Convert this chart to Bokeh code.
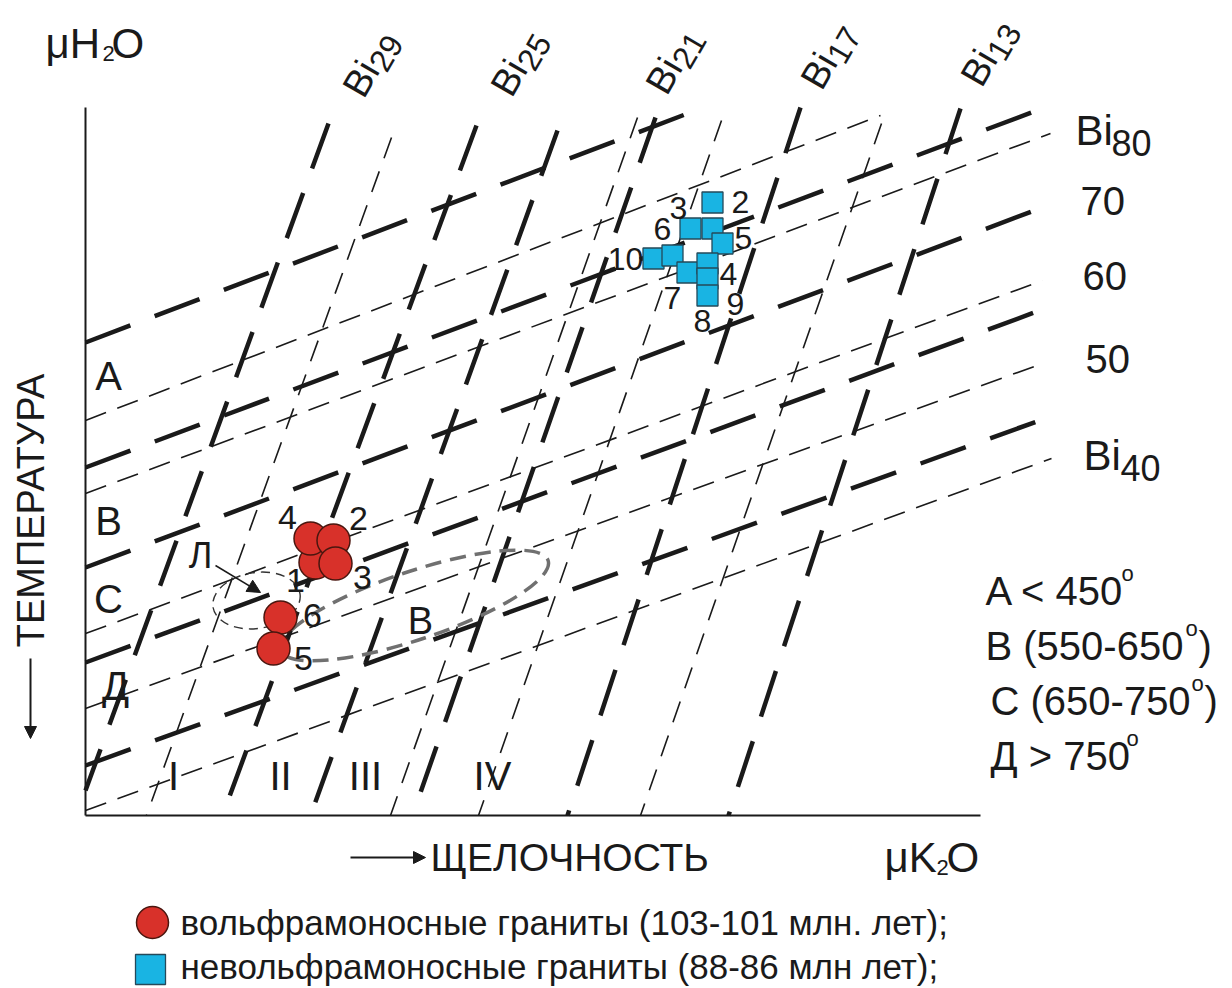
import numpy as np
from bokeh.plotting import figure
from bokeh.models import Range1d, Arrow, NormalHead
from bokeh.embed import file_html
from bokeh.resources import INLINE
from bokeh.core.properties import value

# ---------------- data (diagram units; origin = corner of the axes) ----------------
# sloped Bi isolines (thick long-dashed) : start on the muH2O axis, end at the right / top
slope_thick_x0 = [0, 0, 0, 0, 0]
slope_thick_y0 = [473, 348, 248, 153, 50]
slope_thick_x1 = [610, 962, 957, 957, 954]
slope_thick_y1 = [705, 709, 608, 506, 395]
# sloped thin dashed lines
slope_thin_x0 = [0, 0, 0, 0, 0]
slope_thin_y0 = [395, 322, 182, 107, 5]
slope_thin_x1 = [795, 965, 957, 957, 966]
slope_thin_y1 = [700, 682, 535, 452, 357]
# steep Bi isolines (thick long-dashed): top -> bottom
steep_thick_x0 = [243, 391, 472, 570, 715, 875]
steep_thick_y0 = [692, 690, 685, 698, 708, 707]
steep_thick_x1 = [0, 137, 225, 327, 482, 643]
steep_thick_y1 = [25, 0, 0, 0, 0, 0]
# steep thin dashed lines
steep_thin_x0 = [306, 552, 636, 796]
steep_thin_y0 = [678, 698, 695, 692]
steep_thin_x1 = [61, 305, 393, 555]
steep_thin_y1 = [0, 0, 0, 0]

# tungsten-bearing granites (103-101 Ma)
w_id = ["1", "4", "2", "3", "6", "5"]
w_x = [230, 225, 248, 250, 195, 188]
w_y = [253, 277, 275, 252, 198, 167]
w_lab_x = [210, 202, 273, 277, 227, 218]
w_lab_y = [235, 298, 297, 238, 200, 157]

# non-tungsten granites (88-86 Ma)
nw_x = [627, 605, 627, 637, 568, 587, 602, 622, 622, 622]
nw_y = [613, 587, 587, 572, 557, 560, 543, 552, 537, 520]
nw_lab = ["3", "2", "6", "5", "10", "4", "7", "8", "9"]
nw_lab_x = [593, 655, 577, 658, 540, 643, 587, 617, 650]
nw_lab_y = [608, 614, 587, 578, 557, 542, 518, 495, 512]

# field outlines
big_ell = dict(x=[329], y=[210], w=[282], h=[68], a=[0.325])
small_ell = dict(x=[171], y=[215], w=[88], h=[56], a=[0.15])

top_sub = ["29", "25", "21", "17", "13"]
right_sub = ["80", "70", "60", "50", "40"]
zones = ["A", "B", "C", "Д"]
roman = ["I", "II", "III", "IV"]
temp_main = ["A < 450", "B (550-650", "C (650-750", "Д > 750"]

# ---------------- figure ----------------
p = figure(width=1232, height=988, x_range=Range1d(-85, 1147), y_range=Range1d(-173, 815),
           output_backend="svg", toolbar_location=None, min_border=0,
           x_axis_type=None, y_axis_type=None)
p.outline_line_color = None
p.background_fill_color = "white"
p.border_fill_color = "white"

FONT = value("Liberation Sans")
INK = "#1a1a1a"

# axes
p.segment(x0=[0, 0], y0=[0, 0], x1=[0, 895], y1=[708, 0], line_color=INK, line_width=2)

# isolines
p.segment(x0=slope_thin_x0, y0=slope_thin_y0, x1=slope_thin_x1, y1=slope_thin_y1,
          line_color=INK, line_width=1.6, line_dash="22 12")
p.segment(x0=steep_thin_x0, y0=steep_thin_y0, x1=steep_thin_x1, y1=steep_thin_y1,
          line_color=INK, line_width=1.6, line_dash="22 14")
p.segment(x0=slope_thick_x0, y0=slope_thick_y0, x1=slope_thick_x1, y1=slope_thick_y1,
          line_color=INK, line_width=4.5, line_dash="48 26")
p.segment(x0=steep_thick_x0, y0=steep_thick_y0, x1=steep_thick_x1, y1=steep_thick_y1,
          line_color=INK, line_width=4.5, line_dash="48 26")

# fields
p.ellipse(x=big_ell["x"], y=big_ell["y"], width=big_ell["w"], height=big_ell["h"], angle=big_ell["a"],
          fill_color=None, line_color="#707070", line_width=3.5, line_dash="16 9")
p.ellipse(x=small_ell["x"], y=small_ell["y"], width=small_ell["w"], height=small_ell["h"], angle=small_ell["a"],
          fill_color=None, line_color="#333333", line_width=1.4, line_dash="9 6")
p.add_layout(Arrow(end=NormalHead(size=13, fill_color=INK, line_color=INK),
                   x_start=130, y_start=250, x_end=175, y_end=223, line_color=INK, line_width=1.5))
p.text(x=[115], y=[260], text=["Л"], text_font=FONT, text_font_size="36px",
       text_align="center", text_baseline="middle", text_color=INK)
p.text(x=[335], y=[195], text=["В"], text_font=FONT, text_font_size="38px",
       text_align="center", text_baseline="middle", text_color=INK)

# points
RED, RED_E = "#d8312a", "#4a160f"
CYAN, CYAN_E = "#19b4e3", "#24495a"
p.scatter(x=w_x, y=w_y, size=33, marker="circle", fill_color=RED, line_color=RED_E, line_width=1.5)
p.text(x=w_lab_x, y=w_lab_y, text=w_id, text_font=FONT, text_font_size="34px",
       text_align="center", text_baseline="middle", text_color=INK)
p.scatter(x=nw_x, y=nw_y, size=21, marker="square", fill_color=CYAN, line_color=CYAN_E, line_width=1.3)
p.text(x=nw_lab_x, y=nw_lab_y, text=nw_lab, text_font=FONT, text_font_size="32px",
       text_align="center", text_baseline="middle", text_color=INK)

# zone letters and roman numerals
p.text(x=[23, 23, 23, 30], y=[440, 295, 217, 130], text=zones, text_font=FONT, text_font_size="40px",
       text_align="center", text_baseline="middle", text_color=INK)
p.text(x=[88, 195, 280, 407], y=[40, 40, 40, 40], text=roman, text_font=FONT, text_font_size="40px",
       text_align="center", text_baseline="middle", text_color=INK)

# top rotated Bi labels
ang = np.deg2rad(60)
tx = np.array([267, 415, 570, 725, 885], dtype=float)
ty = np.array([722, 723, 725, 730, 733], dtype=float)
p.text(x=tx, y=ty, text=["Bi"] * 5, angle=ang, text_font=FONT, text_font_size="38px",
       text_align="left", text_baseline="alphabetic", text_color=INK)
sx = tx + 34 * np.cos(ang) + 9 * np.sin(ang)
sy = ty + 34 * np.sin(ang) - 9 * np.cos(ang)
p.text(x=sx, y=sy, text=top_sub, angle=ang, text_font=FONT, text_font_size="32px",
       text_align="left", text_baseline="alphabetic", text_color=INK)

# right-hand Bi labels
p.text(x=[990, 998], y=[685, 360], text=["Bi", "Bi"], text_font=FONT, text_font_size="42px",
       text_align="left", text_baseline="middle", text_color=INK)
p.text(x=[1026, 995, 997, 1000, 1035], y=[673, 615, 540, 457, 348], text=right_sub, text_font=FONT,
       text_font_size=["36px", "40px", "40px", "40px", "36px"],
       text_align="left", text_baseline="middle", text_color=INK)

# temperature legend
p.text(x=[900, 900, 905, 905], y=[225, 170, 115, 60], text=temp_main, text_font=FONT, text_font_size="40px",
       text_align="left", text_baseline="middle", text_color=INK)
p.text(x=[1036, 1100, 1106, 1041], y=[242, 187, 132, 77], text=["o"] * 4, text_font=FONT,
       text_font_size="22px", text_align="left", text_baseline="middle", text_color=INK)
p.text(x=[1113, 1119], y=[170, 115], text=[")", ")"], text_font=FONT, text_font_size="40px",
       text_align="left", text_baseline="middle", text_color=INK)

# axis titles
p.text(x=[-40], y=[772], text=["μH"], text_font=FONT, text_font_size="42px",
       text_align="left", text_baseline="middle", text_color=INK)
p.text(x=[17], y=[762], text=["2"], text_font=FONT, text_font_size="22px",
       text_align="left", text_baseline="middle", text_color=INK)
p.text(x=[26], y=[772], text=["O"], text_font=FONT, text_font_size="42px",
       text_align="left", text_baseline="middle", text_color=INK)
p.text(x=[799], y=[-42], text=["μK"], text_font=FONT, text_font_size="42px",
       text_align="left", text_baseline="middle", text_color=INK)
p.text(x=[851], y=[-52], text=["2"], text_font=FONT, text_font_size="22px",
       text_align="left", text_baseline="middle", text_color=INK)
p.text(x=[861], y=[-42], text=["O"], text_font=FONT, text_font_size="42px",
       text_align="left", text_baseline="middle", text_color=INK)

p.text(x=[345], y=[-42], text=["ЩЕЛОЧНОСТЬ"], text_font=FONT, text_font_size="39px",
       text_align="left", text_baseline="middle", text_color=INK)
p.add_layout(Arrow(end=NormalHead(size=12, fill_color=INK, line_color=INK),
                   x_start=265, y_start=-42, x_end=340, y_end=-42, line_color=INK, line_width=2))
p.text(x=[-55], y=[305], text=["ТЕМПЕРАТУРА"], angle=np.pi / 2, text_font=FONT, text_font_size="38px",
       text_align="center", text_baseline="middle", text_color=INK)
p.add_layout(Arrow(end=NormalHead(size=12, fill_color=INK, line_color=INK),
                   x_start=-55, y_start=157, x_end=-55, y_end=77, line_color=INK, line_width=2))

# legend of symbols
p.scatter(x=[67], y=[-107], size=32, marker="circle", fill_color=RED, line_color=RED_E, line_width=1.5)
p.scatter(x=[65], y=[-154], size=30, marker="square", fill_color=CYAN, line_color=CYAN_E, line_width=1.3)
p.text(x=[95, 95], y=[-107, -151],
       text=["вольфрамоносные граниты (103-101 млн. лет);", "невольфрамоносные граниты (88-86 млн лет);"],
       text_font=FONT, text_font_size="35px", text_align="left", text_baseline="middle", text_color=INK)

open("out.html", "w").write(file_html(p, INLINE))
